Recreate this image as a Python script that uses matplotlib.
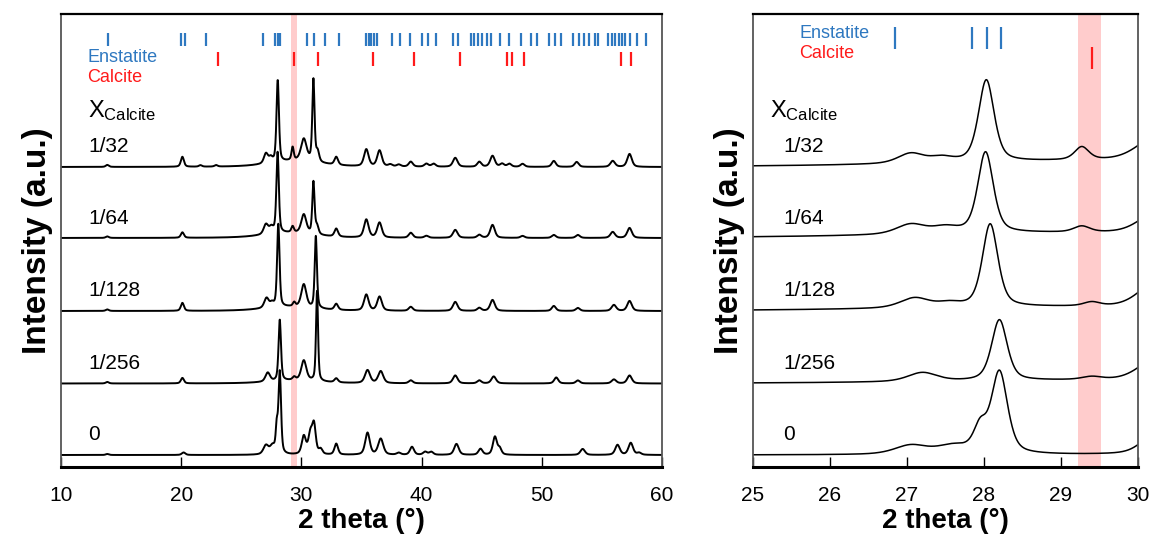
import numpy as np
import matplotlib
matplotlib.use("Agg")
import matplotlib.pyplot as plt

plt.rcParams["font.family"] = ["Liberation Sans", "DejaVu Sans"]

# ---- reference reflections -------------------------------------------
enstatite_pos = [13.9, 19.95, 20.3, 22.1, 26.84, 27.84, 28.04, 28.22, 30.45,
                 31.05, 32.0, 33.1, 35.4, 35.6, 35.8, 36.0, 36.3, 37.5, 38.2,
                 39.0, 40.0, 40.5, 41.2, 42.6, 43.0, 44.1, 44.4, 44.7, 45.0,
                 45.4, 45.8, 46.5, 47.3, 48.3, 49.1, 49.6, 50.6, 51.1, 51.6,
                 52.6, 53.1, 53.5, 53.9, 54.4, 54.7, 55.5, 55.8, 56.1, 56.4,
                 56.65, 56.9, 57.35, 57.9, 58.7]
calcite_pos = [23.02, 29.40, 31.42, 35.97, 39.40, 43.16, 47.12, 47.51,
               48.51, 56.57, 57.40]

# ---- measured patterns: (2theta, height, fwhm) per reflection ----------
peaks_x32 = [(13.85, 2, 0.3), (20.1, 10, 0.3), (21.6, 1.5, 0.3),
             (22.9, 1.5, 0.3), (27.05, 10, 0.4), (27.45, 5, 0.35),
             (28.03, 82, 0.24), (29.27, 13, 0.22), (30.2, 22, 0.55),
             (31.0, 82, 0.22), (31.35, 10, 0.3), (32.9, 8, 0.35),
             (35.4, 17, 0.45), (36.5, 16, 0.45), (37.4, 2, 0.4),
             (38.1, 2, 0.4), (39.1, 5, 0.4), (40.4, 3, 0.4), (41.0, 3, 0.4),
             (42.8, 9, 0.45), (44.8, 5, 0.4), (45.9, 11, 0.45),
             (46.7, 3, 0.4), (47.3, 3, 0.4), (48.4, 3, 0.4), (51.0, 6, 0.4),
             (52.9, 5, 0.4), (55.9, 6, 0.45), (57.3, 13, 0.45),
             (29.5, 6, 5.0)]
peaks_x64 = [(13.85, 1.5, 0.3), (20.1, 5.5, 0.3), (27.05, 10, 0.45),
             (27.5, 6, 0.4), (28.02, 81, 0.24), (29.27, 6, 0.25),
             (30.2, 19, 0.5), (31.0, 52, 0.22), (31.3, 8, 0.3),
             (32.9, 8, 0.35), (35.4, 18, 0.45), (36.5, 15, 0.45),
             (39.1, 5, 0.4), (40.4, 2, 0.4), (42.8, 8, 0.45), (44.8, 3, 0.4),
             (45.9, 13, 0.45), (48.4, 2, 0.4), (51.0, 3, 0.4), (53.0, 3, 0.4),
             (55.9, 6, 0.45), (57.3, 10, 0.45), (29.0, 5, 5.0)]
peaks_x128 = [(13.85, 1.5, 0.3), (20.1, 8, 0.3), (27.1, 10, 0.45),
              (27.55, 4, 0.35), (28.08, 83, 0.24), (29.4, 4, 0.25),
              (30.2, 23, 0.5), (31.2, 72, 0.22), (32.9, 6, 0.35),
              (35.4, 16, 0.45), (36.5, 14, 0.45), (39.1, 4, 0.4),
              (42.8, 9, 0.45), (44.8, 3, 0.4), (45.9, 11, 0.45),
              (51.0, 5, 0.4), (53.0, 3, 0.4), (56.0, 6, 0.45),
              (57.3, 10, 0.45), (29.0, 4, 5.0)]
peaks_x256 = [(13.85, 1.5, 0.3), (20.1, 5.5, 0.3), (27.2, 9, 0.45),
              (28.2, 61, 0.24), (29.4, 3, 0.3), (30.2, 20, 0.5),
              (31.3, 90, 0.2), (32.9, 4, 0.35), (35.5, 13, 0.5),
              (36.6, 12, 0.5), (39.1, 3, 0.4), (42.8, 8, 0.45),
              (44.8, 3, 0.4), (46.0, 7, 0.45), (51.2, 6, 0.4),
              (53.0, 3, 0.4), (56.0, 4, 0.45), (57.3, 8, 0.45),
              (29.5, 3, 5.0)]
peaks_x0 = [(13.85, 1, 0.3), (20.2, 2.5, 0.35), (27.05, 9, 0.5),
            (27.6, 8, 0.5), (27.95, 24, 0.2), (28.2, 82, 0.25),
            (30.2, 18, 0.4), (30.75, 20, 0.4), (31.05, 28, 0.35),
            (31.6, 5, 0.35), (32.9, 11, 0.35), (35.5, 22, 0.45),
            (36.6, 16, 0.5), (38.1, 2, 0.4), (39.2, 8, 0.4), (40.3, 3, 0.4),
            (40.8, 3, 0.4), (42.9, 11, 0.45), (44.9, 6, 0.4),
            (46.1, 18, 0.4), (46.5, 6, 0.35), (53.4, 6, 0.45),
            (56.3, 10, 0.45), (57.4, 12, 0.45), (58.1, 2, 0.4)]

labels = ["1/32", "1/64", "1/128", "1/256", "0"]
patterns = [peaks_x32, peaks_x64, peaks_x128, peaks_x256, peaks_x0]
offsets = [300, 229, 156, 83.5, 12]


def profile(x, peaks, eta=0.5):
    y = np.zeros_like(x)
    for c, h, w in peaks:
        d = (x - c) / w
        y += h * (eta / (1 + 4 * d ** 2) + (1 - eta) * np.exp(-4 * np.log(2) * d ** 2))
    return y


fig = plt.figure(figsize=(11.54, 5.35), dpi=100)
ax1 = fig.add_axes([61 / 1154, 68 / 535, 601 / 1154, 453 / 535])
ax2 = fig.add_axes([753 / 1154, 68 / 535, 385 / 1154, 453 / 535])

blue = "#2e78c0"
red = "#ff1a1a"

# axis, grid, limits, ticks, highlighted band, label x, X label x,
# enstatite tick span, calcite tick span, legend x, legend y, line width
panels = [
    (ax1, np.arange(10, 60.001, 0.02), (10, 60), range(10, 61, 10),
     (29.1, 29.6), 12.25, 12.25, (421, 434), (401, 415), 12.2, 409, 1.4),
    (ax2, np.arange(25, 30.001, 0.005), (25, 30), range(25, 31),
     (29.22, 29.52), 25.39, 25.22, (418, 440), (398, 420), 25.6, 433, 1.1),
]

for ax, x, xlim, ticks, band, lab_x, xc_x, ens_y, cal_y, leg_x, leg_y, lw in panels:
    ax.axvspan(*band, color="#ffcccc", lw=0, zorder=0)
    for pk, off in zip(patterns, offsets):
        ax.plot(x, profile(x, pk) + off, color="black", lw=lw)

    ens = [p for p in enstatite_pos if xlim[0] <= p <= xlim[1]]
    cal = [p for p in calcite_pos if xlim[0] <= p <= xlim[1]]
    ax.vlines(ens, *ens_y, color=blue, lw=1.6)
    ax.vlines(cal, *cal_y, color=red, lw=1.6)

    # sample labels
    for lab, off in zip(labels, offsets):
        ax.text(lab_x, off + 20, lab, fontsize=15, va="center", ha="left")
    ax.text(leg_x, leg_y, "Enstatite", color=blue, fontsize=13, va="center")
    ax.text(leg_x, leg_y - 20, "Calcite", color=red, fontsize=13, va="center")
    ax.text(xc_x, 356, r"X$\mathregular{_{Calcite}}$", fontsize=17,
            va="center")

    ax.set_xlim(*xlim)
    ax.set_ylim(0, 453)
    ax.set_xticks(list(ticks))
    ax.set_yticks([])
    ax.tick_params(axis="x", direction="in", length=7, width=1, pad=14,
                   labelsize=15)
    ax.set_xlabel("2 theta (°)", fontsize=20, fontweight="bold", labelpad=2)
    ax.set_ylabel("Intensity (a.u.)", fontsize=24, fontweight="bold",
                  labelpad=6)
    for side in ["left", "right"]:
        ax.spines[side].set_color("#555555")
        ax.spines[side].set_linewidth(1.3)
    ax.spines["top"].set_linewidth(1.6)
    ax.spines["bottom"].set_linewidth(2.2)

fig.savefig("out.png", dpi=100)
